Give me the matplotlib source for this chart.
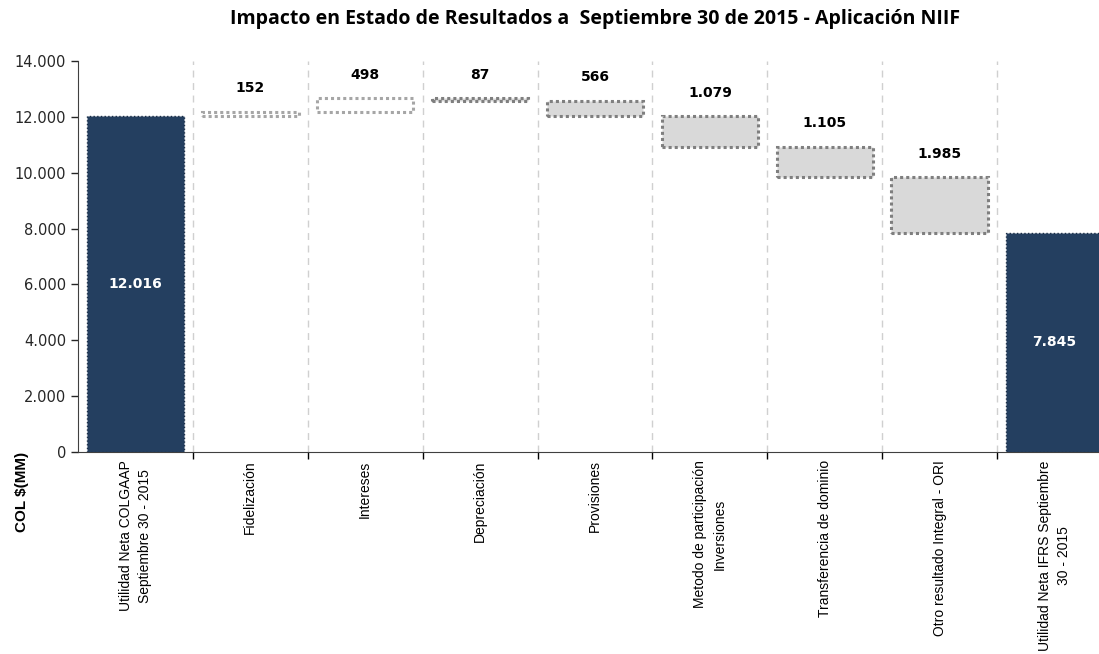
import matplotlib.pyplot as plt
from matplotlib.ticker import FuncFormatter, FixedLocator

# -----------------------------
# Datos
# -----------------------------
categorias = [
    "Utilidad Neta COLGAAP\nSeptiembre 30 - 2015",
    "Fidelización",
    "Intereses",
    "Depreciación",
    "Provisiones",
    "Metodo de participación\nInversiones",
    "Transferencia de dominio",
    "Otro resultado Integral - ORI",
    "Utilidad Neta IFRS Septiembre\n30 - 2015",
]
# variaciones (positivo = aumento, negativo = disminución)
inicial = 12016
ajustes = [152, 498, -87, -566, -1079, -1105, -1985]
final = 7845
etiquetas = ["152", "498", "87", "566", "1.079", "1.105", "1.985"]

azul = "#243F60"
gris_claro = "#D9D9D9"

fig = plt.figure(figsize=(10.99, 6.54), dpi=100)
ax = fig.add_axes([78 / 1099, 1 - 452 / 654, 1 - 78 / 1099, (452 - 61) / 654])

n = len(categorias)
ancho = 0.84

# barras de totales
for i, val in [(0, inicial), (n - 1, final)]:
    ax.bar(i, val, width=ancho, color=azul, edgecolor="#1a2e47",
           linestyle=":", linewidth=1, zorder=3)
    ax.text(i, val / 2, f"{val:,}".replace(",", "."), color="white",
            ha="center", va="center", fontsize=10, fontweight="bold",
            family="DejaVu Sans", zorder=4)

# barras flotantes
acum = inicial
for k, (d, lab) in enumerate(zip(ajustes, etiquetas)):
    i = k + 1
    if d > 0:
        base, alto = acum, d
        fc, ec = "white", "#A6A6A6"
    else:
        base, alto = acum + d, -d
        fc, ec = gris_claro, "#7F7F7F"
    ax.bar(i, alto, bottom=base, width=ancho, color=fc, edgecolor=ec,
           linestyle=(0, (1, 1)), linewidth=2.2, zorder=3)
    ax.annotate(lab, (i, base + alto), xytext=(0, 12), textcoords="offset points",
                ha="center", va="bottom", fontsize=10, fontweight="bold",
                family="DejaVu Sans", color="black")
    acum += d

# lineas verticales entre categorias
for b in range(n - 1):
    ax.axvline(b + 0.5, color="#D0D0D0", linestyle=(0, (5, 4)), linewidth=1, zorder=1)

ax.set_xlim(-0.5, n - 0.5 - 13 / 115)
ax.set_ylim(0, 14000)
ax.yaxis.set_major_locator(FixedLocator(range(0, 14001, 2000)))
ax.yaxis.set_major_formatter(FuncFormatter(lambda v, p: f"{int(v):,}".replace(",", ".")))
ax.tick_params(axis="y", direction="out", length=5, labelsize=10.5, colors="#262626",
               width=1)

ax.set_xticks([b + 0.5 for b in range(n - 1)])
ax.set_xticklabels([])
ax.tick_params(axis="x", direction="out", length=5, width=1)
ax.spines["top"].set_visible(False)
ax.spines["right"].set_visible(False)
ax.spines["left"].set_color("#404040")
ax.spines["bottom"].set_color("#404040")

# etiquetas de categorias
for i, c in enumerate(categorias):
    ax.annotate(c, (i, 0), xytext=(0, -6), textcoords="offset points",
                rotation=90, ha="center", va="top", multialignment="center",
                fontsize=10, family="Liberation Sans",
                annotation_clip=False, linespacing=1.45)

fig.text(0.02, 1 - 492 / 654, "COL $(MM)", rotation=90, ha="center", va="center",
         fontsize=11, fontweight="bold", family="Liberation Sans")

fig.text(595 / 1099, 1 - 19 / 654,
         "Impacto en Estado de Resultados a  Septiembre 30 de 2015 - Aplicación NIIF",
         ha="center", va="center", fontsize=14, fontweight="bold", family="Open Sans")

fig.savefig("out.png", dpi=100)
